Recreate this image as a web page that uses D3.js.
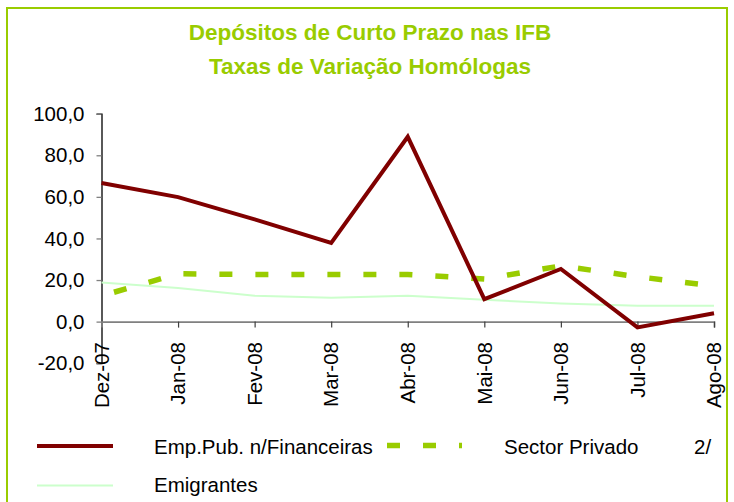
<!DOCTYPE html>
<html>
<head>
<meta charset="utf-8">
<script src="https://cdn.jsdelivr.net/npm/d3@7"></script>
<style>
  html, body { margin: 0; padding: 0; background: #ffffff; }
  svg { display: block; font-family: "Liberation Sans", Arial, sans-serif; }
</style>
</head>
<body>
<div id="chart"></div>
<script>
const months = ["Dez-07", "Jan-08", "Fev-08", "Mar-08", "Abr-08", "Mai-08", "Jun-08", "Jul-08", "Ago-08"];
const empPub = [66.7, 59.9, 49.2, 37.8, 88.9, 10.8, 25.3, -2.8, 4.0];
const sectorPrivado = [12.4, 23.0, 22.7, 22.7, 22.7, 20.5, 26.8, 21.6, 17.2];
const emigrantes = [18.8, 16.2, 12.5, 11.5, 12.4, 10.5, 8.7, 7.6, 7.6];
const yTicks = [-20, 0, 20, 40, 60, 80, 100];
const titleLines = ["Depósitos de Curto Prazo nas IFB", "Taxas de Variação Homólogas"];

const width = 734, height = 502;
const green = "#99cc00";
// Portuguese decimal comma, plain hyphen for negatives
const fmt = d => d.toFixed(1).replace(".", ",");

const svg = d3.select("#chart")
  .append("svg")
  .attr("width", width)
  .attr("height", height);

// outer frame (bottom edge runs off the picture)
svg.append("rect")
  .attr("x", 7).attr("y", 8)
  .attr("width", 720).attr("height", 520)
  .attr("fill", "#ffffff")
  .attr("stroke", green)
  .attr("stroke-width", 2);

svg.selectAll(".title")
  .data(titleLines)
  .enter().append("text")
  .attr("class", "title")
  .attr("x", 370)
  .attr("y", (d, i) => 39.5 + i * 34)
  .attr("text-anchor", "middle")
  .attr("fill", green)
  .attr("font-weight", "bold")
  .attr("font-size", "22.5px")
  .text(d => d);

const x = d3.scalePoint().domain(months).range([101.5, 714]);
const y = d3.scaleLinear().domain([-20, 100]).range([363.2, 113.7]);

const g = svg.append("g");

// y axis: black line, grey ticks, labels on the left
const yAxisG = g.append("g")
  .attr("transform", "translate(101.5,0)")
  .call(d3.axisLeft(y).tickValues(yTicks).tickFormat(fmt).tickSize(5).tickPadding(12));
yAxisG.select(".domain").attr("stroke", "#000000").attr("stroke-width", 1.3);
yAxisG.selectAll(".tick line").attr("stroke", "#808080").attr("stroke-width", 1.3);
yAxisG.selectAll(".tick text")
  .attr("fill", "#000000")
  .attr("font-size", "20.5px")
  .attr("font-family", "'Liberation Sans', Arial, sans-serif");

// x axis crossing at zero, grey
const xAxisG = g.append("g")
  .attr("transform", `translate(0,${y(0)})`)
  .call(d3.axisBottom(x).tickSize(6).tickFormat(""));
xAxisG.select(".domain").attr("stroke", "#808080").attr("stroke-width", 1.6);
xAxisG.selectAll(".tick line").attr("stroke", "#404040").attr("stroke-width", 1.2);
xAxisG.selectAll(".tick").filter(d => d === months[0]).select("line").remove();

// rotated month labels
g.selectAll(".month")
  .data(months)
  .enter().append("text")
  .attr("class", "month")
  .attr("transform", d => `translate(${x(d)},342) rotate(-90)`)
  .attr("text-anchor", "end")
  .attr("dy", "0.35em")
  .attr("font-size", "20.5px")
  .attr("fill", "#000000")
  .text(d => d);

const line = vals => d3.line()
  .x((d, i) => x(months[i]))
  .y(d => y(d))(vals);

g.append("path")
  .attr("d", line(emigrantes))
  .attr("fill", "none")
  .attr("stroke", "#ccffcc")
  .attr("stroke-width", 2);

g.append("path")
  .attr("d", line(sectorPrivado))
  .attr("fill", "none")
  .attr("stroke", green)
  .attr("stroke-width", 5.5)
  .attr("stroke-dasharray", "13,23")
  .attr("stroke-dashoffset", 23);

g.append("path")
  .attr("d", line(empPub))
  .attr("fill", "none")
  .attr("stroke", "#800000")
  .attr("stroke-width", 4)
  .attr("stroke-linejoin", "miter");

// legend
const legend = svg.append("g").attr("font-size", "20.5px").attr("fill", "#000000");
legend.append("line").attr("x1", 37).attr("x2", 113).attr("y1", 446).attr("y2", 446)
  .attr("stroke", "#800000").attr("stroke-width", 4);
legend.append("text").attr("x", 154).attr("y", 454).text("Emp.Pub. n/Financeiras");
legend.append("line").attr("x1", 387).attr("x2", 462).attr("y1", 445.5).attr("y2", 445.5)
  .attr("stroke", green).attr("stroke-width", 5.5).attr("stroke-dasharray", "13,23");
legend.append("text").attr("x", 504).attr("y", 454).text("Sector Privado");
legend.append("text").attr("x", 694).attr("y", 454).text("2/");
legend.append("line").attr("x1", 37).attr("x2", 113).attr("y1", 485.5).attr("y2", 485.5)
  .attr("stroke", "#ccffcc").attr("stroke-width", 2);
legend.append("text").attr("x", 154).attr("y", 491.7).text("Emigrantes");
</script>
</body>
</html>
